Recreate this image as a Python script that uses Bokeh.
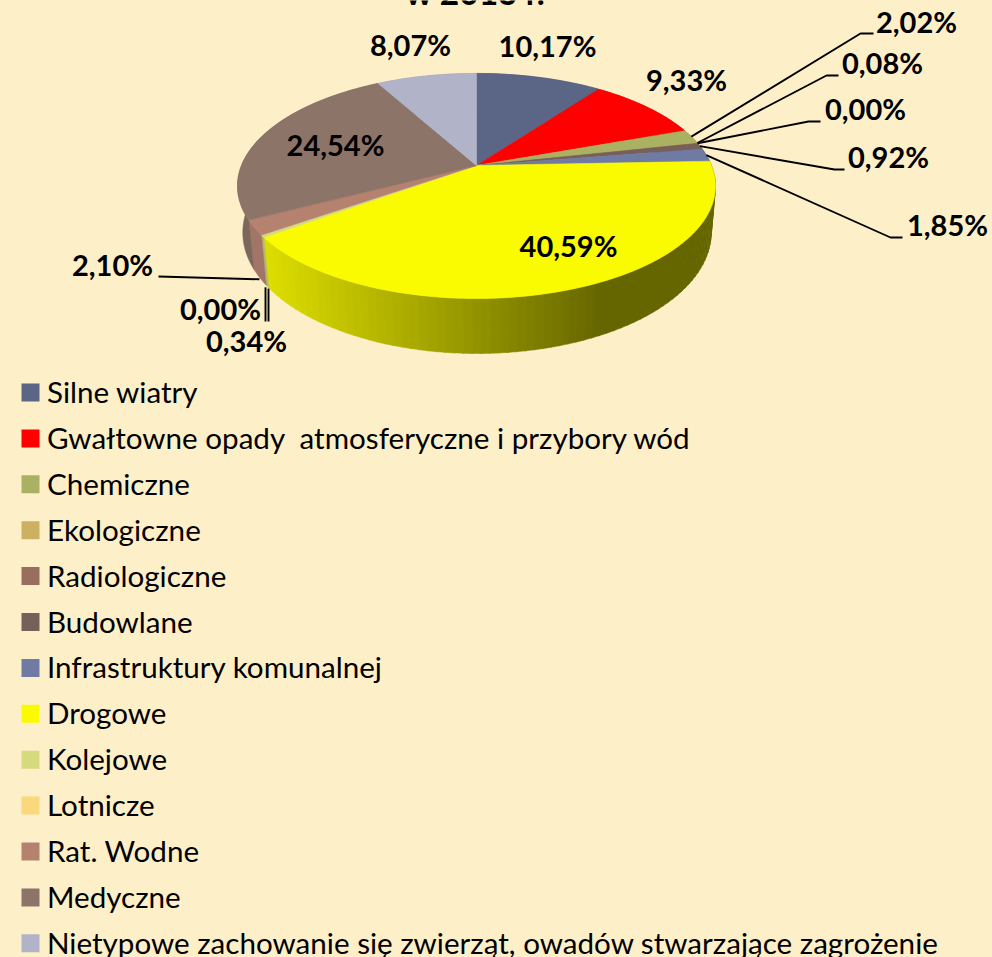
import math
from bokeh.plotting import figure
from bokeh.models import Range1d
from bokeh.core.properties import value
from bokeh.embed import file_html
from bokeh.resources import INLINE

CATEGORIES = ["Silne wiatry", "Gwałtowne opady\u00a0 atmosferyczne i przybory wód", "Chemiczne",
              "Ekologiczne", "Radiologiczne", "Budowlane", "Infrastruktury komunalnej",
              "Drogowe", "Kolejowe", "Lotnicze", "Rat. Wodne", "Medyczne",
              "Nietypowe zachowanie się zwierząt, owadów stwarzające zagrożenie"]
VALUES = [10.17, 9.33, 2.02, 0.08, 0.00, 0.92, 1.85, 40.59, 0.34, 0.00, 2.10, 24.54, 8.07]
COLORS = ["#5B6585", "#FF0000", "#ABB162", "#CDB162", "#9A6E5E", "#75605A", "#6F7BA3",
          "#FBFB00", "#D5DB7C", "#FAD97C", "#B58270", "#8D7468", "#B1B3C8"]
WALL_COLORS = ["#4A5270", "#C00000", "#8C9250", "#A89050", "#7F5A4C", "#5F4E49", "#5A6485",
               None, "#B4BA68", "#D0B468", "#A37566", "#7D665C", "#9193A6"]
BG = "#FDEFC8"
TITLE = "w 2013 r."

# label text position per slice (px layout)
LABEL_POS = [(547, 45), (686, 79), (916, 21), (882, 62), (865, 108), (888, 156), (947, 224),
             (568, 245), (246, 340), (220, 308), (112, 264), (335, 144), (410, 44)]
LEADERS = {2: ((860, 33), (873, 33)), 3: ((826, 75), (838, 75)), 4: ((808, 121), (820, 121)),
           5: ((834, 169), (844, 169)), 6: ((890, 237), (902, 237))}
LEADERS_LOW = {8: (268, 321), 9: (265, 321), 10: (158, 276)}

W, H = 992, 957
CX, CY = 476, 165
A, B, K = 235, 108.8, 0.182   # projected circle with perspective
DROP, SCALE_X, SCALE_Y, SHIFT = 45, 0.98, 1.075, 0.5   # lower rim

p = figure(width=W, height=H, output_backend="svg", toolbar_location=None,
           x_range=Range1d(0, W), y_range=Range1d(H, 0), min_border=0,
           background_fill_color=BG, border_fill_color=BG, outline_line_color=None)
p.axis.visible = False
p.grid.visible = False


def top(theta):
    d = 1 + K * math.cos(theta)
    return CX + A * math.sin(theta) / d, CY - B * math.cos(theta) / d


def low(theta):
    d = 1 + K * math.cos(theta)
    return CX + SHIFT + SCALE_X * A * math.sin(theta) / d, CY + DROP - SCALE_Y * B * math.cos(theta) / d


def arc(fn, a, b):
    n = max(2, int(abs(b - a) / 0.02) + 2)
    return [fn(a + (b - a) * i / (n - 1)) for i in range(n)]


total = sum(VALUES)
starts, cum = [], 0.0
for v in VALUES:
    starts.append(cum)
    cum += v
angle = lambda c: 2 * math.pi * c / total


def mix(x):
    t = min(1.0, max(0.0, (x - 263) / (600 - 263)))
    g = int(round(0xDE + (0x66 - 0xDE) * t))
    return "#%02x%02x00" % (g, g)


# walls
for i, v in enumerate(VALUES):
    if v <= 0:
        continue
    a, b = angle(starts[i]), angle(starts[i] + v)
    if WALL_COLORS[i] is None:
        n = 80
        for s in range(n):
            a0, b0 = a + (b - a) * s / n, a + (b - a) * (s + 1.15) / n
            b0 = min(b0, b)
            pts = arc(top, a0, b0) + arc(low, a0, b0)[::-1]
            c = mix(top((a0 + b0) / 2)[0])
            p.patch([q[0] for q in pts], [q[1] for q in pts], fill_color=c, line_color=c, line_width=0.5)
    else:
        pts = arc(top, a, b) + arc(low, a, b)[::-1]
        p.patch([q[0] for q in pts], [q[1] for q in pts], fill_color=WALL_COLORS[i],
                line_color=WALL_COLORS[i], line_width=0.5)

# top faces
for i, v in enumerate(VALUES):
    if v <= 0:
        continue
    a, b = angle(starts[i]), angle(starts[i] + v)
    pts = [(CX, CY)] + arc(top, a, b)
    p.patch([q[0] for q in pts], [q[1] for q in pts], fill_color=COLORS[i],
            line_color=COLORS[i], line_width=0.6)

# leaders
for i, (el, end) in LEADERS.items():
    s = top(angle(starts[i] + VALUES[i] / 2))
    p.line([s[0], el[0], end[0]], [s[1], el[1], end[1]], line_color="#000000", line_width=1.9)
for i, end in LEADERS_LOW.items():
    s = low(angle(starts[i] + VALUES[i] / 2))
    x0 = end[0] if abs(end[0] - s[0]) < 6 else s[0]
    p.line([x0, end[0]], [s[1] + 2, end[1]], line_color="#000000", line_width=1.9)

# data labels
labels = ["%.2f%%" % v for v in VALUES]
labels = [t.replace(".", ",") for t in labels]
p.text([q[0] for q in LABEL_POS], [q[1] for q in LABEL_POS], text=labels, text_color="#000000",
       text_font=value("Lato"), text_font_style="bold", text_font_size="29px",
       text_align="center", text_baseline="middle")

# title (cut by the top edge in the reference)
p.text([475], [-9], text=[TITLE], text_color="#000000", text_font=value("Lato"),
       text_font_style="bold", text_font_size="33.5px", text_align="center", text_baseline="alphabetic")

# legend
LEG_X, LEG_Y, LEG_STEP, SQ = 21, 392, 45.9, 18
ys = [LEG_Y + LEG_STEP * i for i in range(len(CATEGORIES))]
p.rect([LEG_X + SQ / 2] * len(ys), ys, width=SQ, height=SQ, fill_color=COLORS, line_color=None)
p.text([46.5] * len(ys), [y - 1 for y in ys], text=CATEGORIES, text_color="#000000", text_font=value("Lato"),
       text_font_size="29.6px", text_align="left", text_baseline="middle")

html = file_html(p, INLINE)
html = html.replace("</head>", "<style>html,body{margin:0;background:%s;overflow:hidden}</style></head>" % BG, 1)
open("out.html", "w", encoding="utf-8").write(html)
